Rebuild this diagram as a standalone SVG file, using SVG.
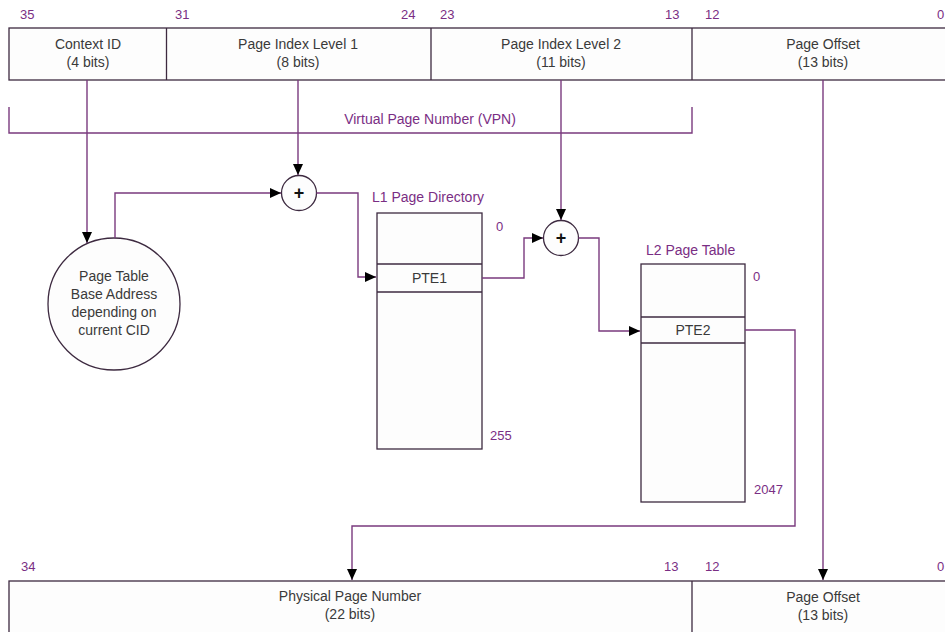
<svg xmlns="http://www.w3.org/2000/svg" width="945" height="632" viewBox="0 0 945 632">
<style>
.box{fill:#fdfdfd;stroke:#3d2a40;stroke-width:1.3}
.t{font-family:"Liberation Sans",Arial,sans-serif;font-size:14px;fill:#3a3a3a;text-anchor:middle}
.lbl{font-family:"Liberation Sans",Arial,sans-serif;font-size:14px;fill:#7a2e84}
.num{font-family:"Liberation Sans",Arial,sans-serif;font-size:13px;fill:#7a2e84}
.c{fill:none;stroke:#7a3a7e;stroke-width:1.4}
.plus{font-family:"Liberation Sans",Arial,sans-serif;font-size:18px;font-weight:bold;fill:#111;text-anchor:middle}
</style>
<defs>
<marker id="ah" markerUnits="userSpaceOnUse" markerWidth="12" markerHeight="10" refX="11" refY="5" orient="auto">
<path d="M0,0 L11,5 L0,10 z" fill="#000"/>
</marker>
</defs>

<!-- bit labels top -->
<g id="toplabels">
<text class="num" x="20" y="19">35</text>
<text class="num" x="175" y="19">31</text>
<text class="num" x="401" y="19">24</text>
<text class="num" x="440" y="19">23</text>
<text class="num" x="665" y="19">13</text>
<text class="num" x="705" y="19">12</text>
<text class="num" x="937" y="19">0</text>
</g>

<g id="vaddr">
<rect class="box" x="9" y="28" width="950" height="52"/>
<line class="box" x1="166.5" y1="28" x2="166.5" y2="80"/>
<line class="box" x1="431" y1="28" x2="431" y2="80"/>
<line class="box" x1="692" y1="28" x2="692" y2="80"/>
<text class="t" x="88" y="49">Context ID</text>
<text class="t" x="88" y="67">(4 bits)</text>
<text class="t" x="298" y="49">Page Index Level 1</text>
<text class="t" x="298" y="67">(8 bits)</text>
<text class="t" x="561" y="49">Page Index Level 2</text>
<text class="t" x="561" y="67">(11 bits)</text>
<text class="t" x="823" y="49">Page Offset</text>
<text class="t" x="823" y="67">(13 bits)</text>
</g>

<g id="vpn">
<polyline class="c" points="9,107 9,133 692,133 692,107"/>
<text class="lbl" x="430" y="124" text-anchor="middle">Virtual Page Number  (VPN)</text>
</g>

<g id="base">
<circle class="box" cx="114" cy="304" r="66"/>
<text class="t" x="114" y="281">Page Table</text>
<text class="t" x="114" y="299">Base Address</text>
<text class="t" x="114" y="317">depending on</text>
<text class="t" x="114" y="335">current CID</text>
</g>

<g id="plus1">
<circle class="box" cx="299" cy="193" r="17.5"/>
<text class="plus" x="299" y="199">+</text>
</g>

<g id="l1">
<text class="lbl" x="372" y="202">L1 Page Directory</text>
<rect class="box" x="377" y="213" width="105" height="236"/>
<line class="box" x1="377" y1="264" x2="482" y2="264"/>
<line class="box" x1="377" y1="292" x2="482" y2="292"/>
<text class="t" x="429.5" y="283">PTE1</text>
<text class="num" x="496" y="231">0</text>
<text class="num" x="490" y="440">255</text>
</g>

<g id="plus2">
<circle class="box" cx="561" cy="238" r="17.5"/>
<text class="plus" x="561" y="244">+</text>
</g>

<g id="l2">
<text class="lbl" x="646" y="255">L2 Page Table</text>
<rect class="box" x="641" y="264" width="104" height="238"/>
<line class="box" x1="641" y1="317" x2="745" y2="317"/>
<line class="box" x1="641" y1="343" x2="745" y2="343"/>
<text class="t" x="693" y="335">PTE2</text>
<text class="num" x="753" y="281">0</text>
<text class="num" x="754" y="494">2047</text>
</g>

<g id="bottomlabels">
<text class="num" x="21" y="571">34</text>
<text class="num" x="664" y="571">13</text>
<text class="num" x="705" y="571">12</text>
<text class="num" x="937" y="571">0</text>
</g>

<g id="paddr">
<rect class="box" x="9" y="581" width="950" height="60"/>
<line class="box" x1="692" y1="581" x2="692" y2="632"/>
<text class="t" x="350" y="601">Physical Page Number</text>
<text class="t" x="350" y="619">(22 bits)</text>
<text class="t" x="823" y="602">Page Offset</text>
<text class="t" x="823" y="620">(13 bits)</text>
</g>

<g id="connectors">
<line class="c" x1="87" y1="80" x2="87" y2="243" marker-end="url(#ah)"/>
<polyline class="c" points="115,238 115,193 281,193" marker-end="url(#ah)"/>
<line class="c" x1="298" y1="80" x2="298" y2="175" marker-end="url(#ah)"/>
<polyline class="c" points="316.5,193 358,193 358,277 376,277" marker-end="url(#ah)"/>
<polyline class="c" points="482,278 524,278 524,238 543,238" marker-end="url(#ah)"/>
<line class="c" x1="561" y1="80" x2="561" y2="220" marker-end="url(#ah)"/>
<polyline class="c" points="578.5,238 599,238 599,331 640,331" marker-end="url(#ah)"/>
<polyline class="c" points="745,330 795,330 795,526 352,526 352,580" marker-end="url(#ah)"/>
<line class="c" x1="823" y1="80" x2="823" y2="580" marker-end="url(#ah)"/>
</g>
</svg>
